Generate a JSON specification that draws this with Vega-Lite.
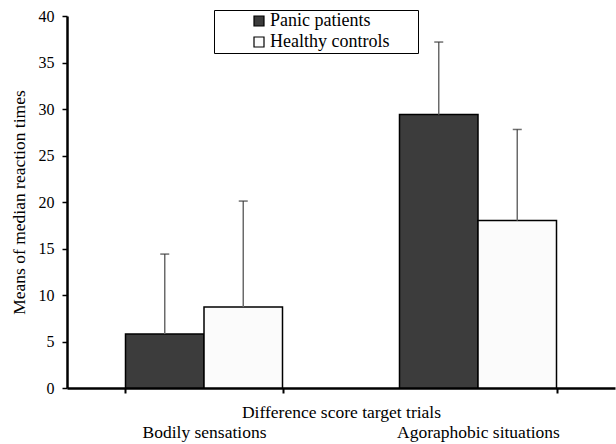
{
  "$schema": "https://vega.github.io/schema/vega-lite/v6.json",
  "width": 548,
  "height": 372,
  "autosize": {"type": "none"},
  "padding": {"left": 67, "top": 16, "right": 1, "bottom": 56},
  "background": "white",
  "config": {
    "view": {"stroke": null},
    "font": "Liberation Serif"
  },
  "data": {
    "values": [
      {"category": "Bodily sensations", "group": "Panic patients", "mean": 5.8, "upper": 14.4},
      {"category": "Bodily sensations", "group": "Healthy controls", "mean": 8.7, "upper": 20.1},
      {"category": "Agoraphobic situations", "group": "Panic patients", "mean": 29.4, "upper": 37.2},
      {"category": "Agoraphobic situations", "group": "Healthy controls", "mean": 18.0, "upper": 27.8}
    ]
  },
  "encoding": {
    "x": {
      "field": "category",
      "type": "nominal",
      "sort": ["Bodily sensations", "Agoraphobic situations"],
      "scale": {"paddingInner": 0.427, "paddingOuter": 0.2135},
      "axis": {
        "title": "Difference score target trials",
        "titleFont": "Liberation Serif",
        "titleFontSize": 17.5,
        "titleFontWeight": "normal",
        "titleColor": "black",
        "titleY": 29,
        "titleBaseline": "alphabetic",
        "labelFont": "Liberation Serif",
        "labelFontSize": 17.5,
        "labelColor": "black",
        "labelAngle": 0,
        "labelPadding": 30,
        "tickBand": "extent",
        "tickSize": 5,
        "tickWidth": 2,
        "tickColor": "black",
        "domainColor": "black",
        "domainWidth": 2.5
      }
    },
    "xOffset": {
      "field": "group",
      "type": "nominal",
      "sort": ["Panic patients", "Healthy controls"],
      "scale": {"paddingInner": 0, "paddingOuter": 0}
    }
  },
  "layer": [
    {
      "mark": {"type": "bar", "stroke": "black", "strokeWidth": 1.5},
      "encoding": {
        "y": {
          "field": "mean",
          "type": "quantitative",
          "scale": {"domain": [0, 40], "nice": false},
          "axis": {
            "title": "Means of median reaction times",
            "titleFont": "Liberation Serif",
            "titleFontSize": 17.5,
            "titleFontWeight": "normal",
            "titleColor": "black",
            "titlePadding": 10,
            "labelFont": "Liberation Serif",
            "labelFontSize": 16,
            "labelColor": "black",
            "labelPadding": 8,
            "values": [0, 5, 10, 15, 20, 25, 30, 35, 40],
            "grid": false,
            "tickSize": 5,
            "tickWidth": 1.5,
            "tickColor": "black",
            "domainColor": "black",
            "domainWidth": 2.5
          }
        },
        "color": {
          "field": "group",
          "type": "nominal",
          "scale": {"domain": ["Panic patients", "Healthy controls"], "range": ["#3c3c3c", "#fbfbfb"]},
          "legend": {
            "title": null,
            "orient": "none",
            "legendX": 147,
            "legendY": -6,
            "direction": "vertical",
            "strokeColor": "black",
            "fillColor": "white",
            "padding": 2,
            "rowPadding": 3,
            "symbolType": "square",
            "symbolSize": 100,
            "symbolStrokeColor": "black",
            "symbolStrokeWidth": 1.2,
            "symbolOffset": 34,
            "labelOffset": 2,
            "labelFont": "Liberation Serif",
            "labelFontSize": 18,
            "labelColor": "black",
            "labelExpr": "datum.label + '\u2800\u2800'"
          }
        }
      }
    },
    {
      "mark": {"type": "rule", "color": "#6a6a6a", "strokeWidth": 1.5},
      "encoding": {
        "y": {"field": "mean", "type": "quantitative"},
        "y2": {"field": "upper"}
      }
    },
    {
      "mark": {"type": "tick", "color": "#333333", "size": 9, "thickness": 1.5},
      "encoding": {
        "y": {"field": "upper", "type": "quantitative"}
      }
    }
  ]
}
